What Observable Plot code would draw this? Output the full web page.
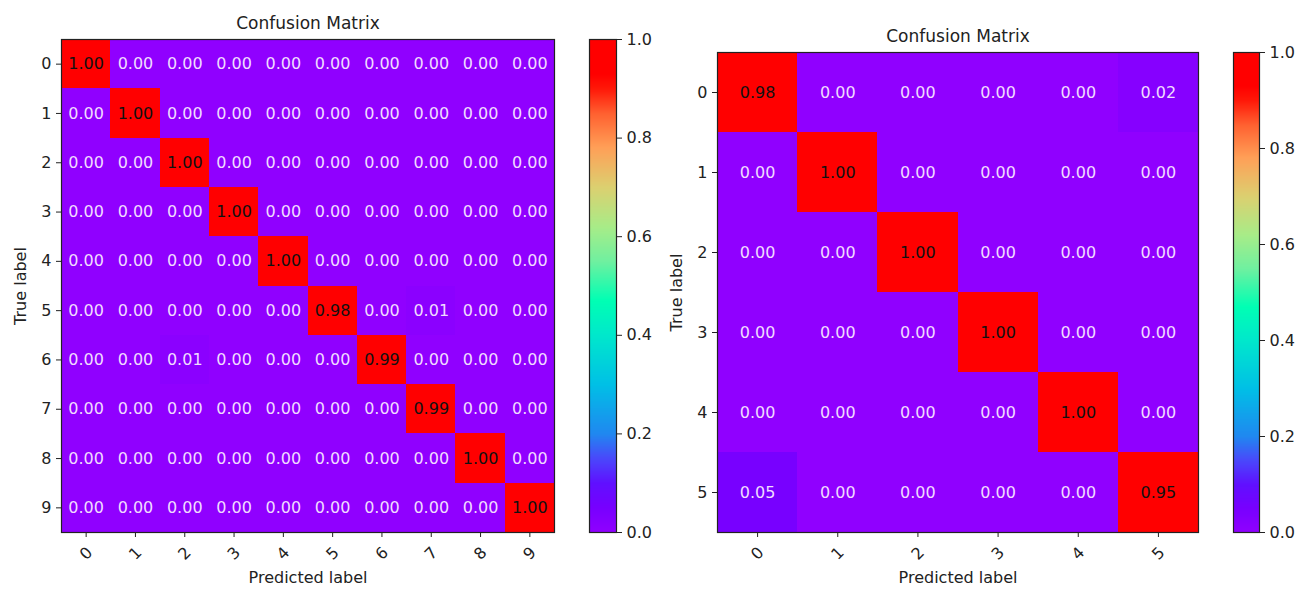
<!DOCTYPE html>
<html>
<head>
<meta charset="utf-8">
<script src="https://cdn.jsdelivr.net/npm/d3@7"></script>
<script src="https://cdn.jsdelivr.net/npm/@observablehq/plot@0.6"></script>
<style>
  html, body { margin: 0; padding: 0; background: #fff; }
  #root { position: relative; width: 1308px; height: 590px; overflow: hidden; background: #fff; }
  .panel { position: absolute; top: 0; }
  .panel svg { display: block; }
</style>
</head>
<body>
<div id="root"></div>
<script>
// ---- data ----
const titleText = "Confusion Matrix";
const xAxisLabel = "Predicted label";
const yAxisLabel = "True label";

const leftLabels = ["0", "1", "2", "3", "4", "5", "6", "7", "8", "9"];
const leftMatrix = [
  [1.00, 0.00, 0.00, 0.00, 0.00, 0.00, 0.00, 0.00, 0.00, 0.00],
  [0.00, 1.00, 0.00, 0.00, 0.00, 0.00, 0.00, 0.00, 0.00, 0.00],
  [0.00, 0.00, 1.00, 0.00, 0.00, 0.00, 0.00, 0.00, 0.00, 0.00],
  [0.00, 0.00, 0.00, 1.00, 0.00, 0.00, 0.00, 0.00, 0.00, 0.00],
  [0.00, 0.00, 0.00, 0.00, 1.00, 0.00, 0.00, 0.00, 0.00, 0.00],
  [0.00, 0.00, 0.00, 0.00, 0.00, 0.98, 0.00, 0.01, 0.00, 0.00],
  [0.00, 0.00, 0.01, 0.00, 0.00, 0.00, 0.99, 0.00, 0.00, 0.00],
  [0.00, 0.00, 0.00, 0.00, 0.00, 0.00, 0.00, 0.99, 0.00, 0.00],
  [0.00, 0.00, 0.00, 0.00, 0.00, 0.00, 0.00, 0.00, 1.00, 0.00],
  [0.00, 0.00, 0.00, 0.00, 0.00, 0.00, 0.00, 0.00, 0.00, 1.00]
];

const rightLabels = ["0", "1", "2", "3", "4", "5"];
const rightMatrix = [
  [0.98, 0.00, 0.00, 0.00, 0.00, 0.02],
  [0.00, 1.00, 0.00, 0.00, 0.00, 0.00],
  [0.00, 0.00, 1.00, 0.00, 0.00, 0.00],
  [0.00, 0.00, 0.00, 1.00, 0.00, 0.00],
  [0.00, 0.00, 0.00, 0.00, 1.00, 0.00],
  [0.05, 0.00, 0.00, 0.00, 0.00, 0.95]
];

const colorbarTicks = [0.0, 0.2, 0.4, 0.6, 0.8, 1.0];

// rainbow colormap as it appears in the picture (stop position, colour)
const rampStops = [0.00, 0.05, 0.10, 0.15, 0.20, 0.30, 0.40, 0.47, 0.55, 0.62, 0.70, 0.78, 0.85, 0.90, 0.93, 1.00];
const rampColors = ["#9000ff", "#7800ff", "#6010ff", "#4a48fb", "#2088f0", "#00c0e6", "#00e8cc", "#00ffb4", "#70f0a0", "#a8ec88", "#dcd070", "#ffa058", "#ff6030", "#ff1808", "#ff0000", "#ff0000"];
const ramp = d3.scaleLinear().domain(rampStops).range(rampColors).interpolate(d3.interpolateRgb).clamp(true);
const rainbow = t => ramp(t);

const colorScale = { type: "linear", domain: [0, 1], interpolate: rainbow };
const baseStyle = { fontFamily: "DejaVu Sans, sans-serif", fontSize: "16px", color: "#222", background: "#fff", overflow: "visible" };

function matrixPlot(labels, matrix, opts) {
  const data = matrix.flatMap((row, i) => row.map((v, j) => ({ actual: labels[i], pred: labels[j], value: v })));
  return Plot.plot({
    width: opts.width,
    height: opts.height,
    marginLeft: opts.marginLeft,
    marginRight: opts.marginRight,
    marginTop: opts.marginTop,
    marginBottom: opts.marginBottom,
    style: baseStyle,
    x: { type: "band", domain: labels, padding: 0, round: false, axis: null },
    y: { type: "band", domain: labels, padding: 0, round: false, axis: null },
    color: colorScale,
    marks: [
      Plot.cell(data, { x: "pred", y: "actual", fill: "value", inset: 0, shapeRendering: "crispEdges" }),
      Plot.text(data, { filter: d => d.value > 0.5, x: "pred", y: "actual", text: d => d.value.toFixed(2), fill: "#111", fontSize: 16 }),
      Plot.text(data, { filter: d => d.value <= 0.5, x: "pred", y: "actual", text: d => d.value.toFixed(2), fill: "#f0dcff", fontSize: 16 }),
      Plot.frame({ stroke: "#222", strokeWidth: 1.2 }),
      Plot.axisY({ anchor: "left", tickSize: 5, tickPadding: 5, label: null, fontSize: 16, stroke: "#222", fill: "#222" }),
      Plot.axisX({ anchor: "bottom", tickSize: 5, tickFormat: () => "", label: null, stroke: "#222" }),
      Plot.text(labels, { x: d => d, text: d => d, frameAnchor: "bottom", dy: 21, rotate: -45, lineAnchor: "middle", textAnchor: "middle", fontSize: 16, fill: "#222" }),
      Plot.text([titleText], { text: d => d, frameAnchor: "top", dy: -16, lineAnchor: "middle", textAnchor: "middle", fontSize: 17, fill: "#222" }),
      Plot.text([xAxisLabel], { text: d => d, frameAnchor: "bottom", dy: 45, lineAnchor: "middle", textAnchor: "middle", fontSize: 16, fill: "#222" }),
      Plot.text([yAxisLabel], { text: d => d, frameAnchor: "left", dx: -41, rotate: -90, lineAnchor: "middle", textAnchor: "middle", fontSize: 16, fill: "#222" })
    ]
  });
}

function colorbarPlot(opts) {
  return Plot.plot({
    width: opts.width,
    height: opts.height,
    marginLeft: opts.marginLeft,
    marginRight: opts.marginRight,
    marginTop: opts.marginTop,
    marginBottom: opts.marginBottom,
    style: baseStyle,
    x: { domain: [0, 1], axis: null },
    y: { domain: [0, 1], axis: null },
    color: colorScale,
    marks: [
      Plot.raster({ fill: (x, y) => y, x1: 0, x2: 1, y1: 0, y2: 1, pixelSize: 1, imageRendering: "auto" }),
      Plot.frame({ stroke: "#222", strokeWidth: 1.2 }),
      Plot.axisY({ anchor: "right", ticks: colorbarTicks, tickFormat: d3.format(".1f"), tickSize: 5, tickPadding: 5, label: null, fontSize: 16, stroke: "#222", fill: "#222" })
    ]
  });
}

function place(node, left) {
  const div = document.createElement("div");
  div.className = "panel";
  div.style.left = left + "px";
  div.appendChild(node);
  document.getElementById("root").appendChild(div);
}

// left matrix: frame x 61..554, y 39..532
place(matrixPlot(leftLabels, leftMatrix, { width: 560, height: 590, marginLeft: 61, marginRight: 6, marginTop: 39, marginBottom: 58 }), 0);
// left colorbar: frame x 589..616
place(colorbarPlot({ width: 120, height: 590, marginLeft: 29, marginRight: 64, marginTop: 39, marginBottom: 58 }), 560);
// right matrix: frame x 717..1198, y 52..532
place(matrixPlot(rightLabels, rightMatrix, { width: 550, height: 590, marginLeft: 57, marginRight: 12, marginTop: 52, marginBottom: 58 }), 660);
// right colorbar: frame x 1233..1259
place(colorbarPlot({ width: 98, height: 590, marginLeft: 23, marginRight: 49, marginTop: 52, marginBottom: 58 }), 1210);
</script>
</body>
</html>
